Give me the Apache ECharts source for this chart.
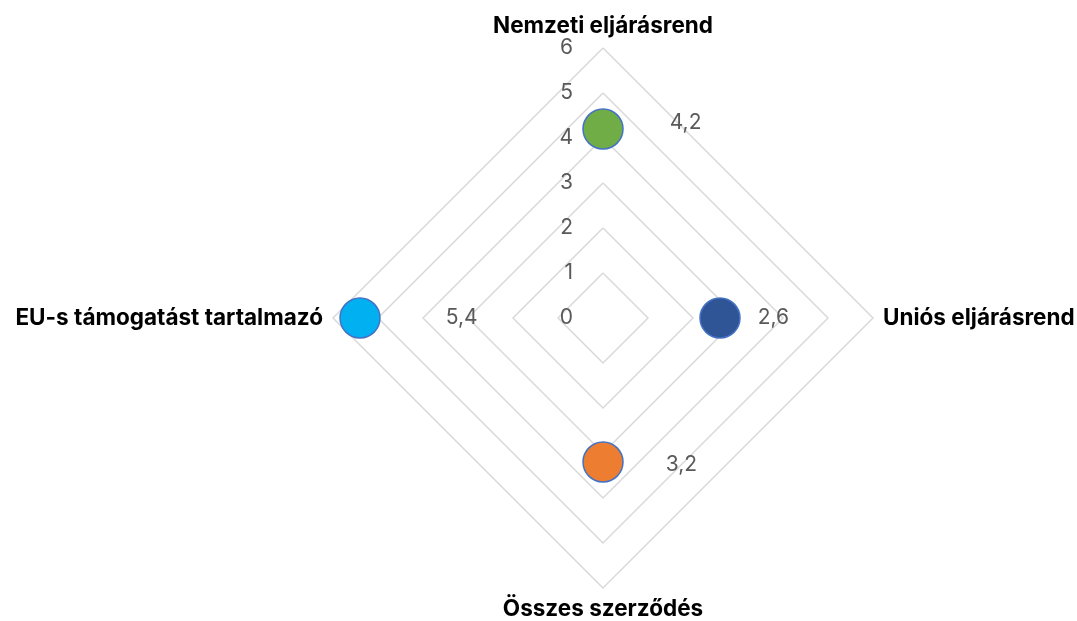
<!DOCTYPE html>
<html>
<head>
<meta charset="utf-8">
<script src="https://cdn.jsdelivr.net/npm/echarts@6/dist/echarts.min.js"></script>
<style>
  html, body { margin: 0; padding: 0; background: #fff; }
  #chart { width: 1077px; height: 621px; }
</style>
</head>
<body>
<div id="chart"></div>
<script>
// radar axes in ECharts order (counter-clockwise from the top)
const categories = ['Nemzeti eljárásrend', 'EU-s támogatást tartalmazó', 'Összes szerződés', 'Uniós eljárásrend'];
const values = [4.2, 5.4, 3.2, 2.6];
const pointColors = ['#70AD47', '#00B0F0', '#ED7D31', '#2F5597'];
const axisMax = 6;

const center = [603, 318];
const radius = 270;
const font = 'Inter, "Noto Sans", sans-serif';

// label spacing next to each dot
const labelDistance = [46, 65, 42, 17];
const labelShiftY = [-6, 0, 3, 0];

let chart = echarts.init(document.getElementById('chart'));

let option = {
    animation: false,
    radar: {
        center: center,
        radius: radius,
        shape: 'polygon',
        startAngle: 90,
        splitNumber: 6,
        indicator: categories.map((name, i) => ({
            name: name,
            min: 0,
            max: axisMax,
            axisLabel: { show: i === 0 }
        })),
        axisName: {
            color: '#000',
            fontFamily: font,
            fontWeight: 'bold',
            fontSize: 22.5
        },
        nameGap: 10,
        axisLine: { show: false },
        axisTick: { show: false },
        splitArea: { show: false },
        splitLine: { lineStyle: { color: '#d9d9d9', width: 1.5 } },
        axisLabel: {
            show: true,
            color: '#595959',
            fontFamily: font,
            fontSize: 21,
            margin: 30,
            showMinLabel: true,
            showMaxLabel: true
        }
    },
    polar: { center: center, radius: radius },
    angleAxis: {
        type: 'category',
        data: categories,
        startAngle: 90,
        clockwise: false,
        boundaryGap: false,
        show: false
    },
    radiusAxis: { min: 0, max: axisMax, show: false },
    series: [
        {
            type: 'radar',
            silent: true,
            symbol: 'none',
            lineStyle: { opacity: 0 },
            data: [{ value: values }]
        },
        {
            type: 'scatter',
            coordinateSystem: 'polar',
            symbolSize: 40,
            data: values.map((v, i) => ({
                value: [v, i],
                itemStyle: { color: pointColors[i], opacity: 1, borderColor: '#4472C4', borderWidth: 1.5 },
                label: { distance: labelDistance[i], offset: [0, labelShiftY[i]] }
            })),
            label: {
                show: true,
                position: 'right',
                color: '#595959',
                fontFamily: font,
                fontSize: 21,
                formatter: p => String(p.value[0]).replace('.', ',')
            }
        }
    ]
};

chart.setOption(option);
</script>
</body>
</html>
